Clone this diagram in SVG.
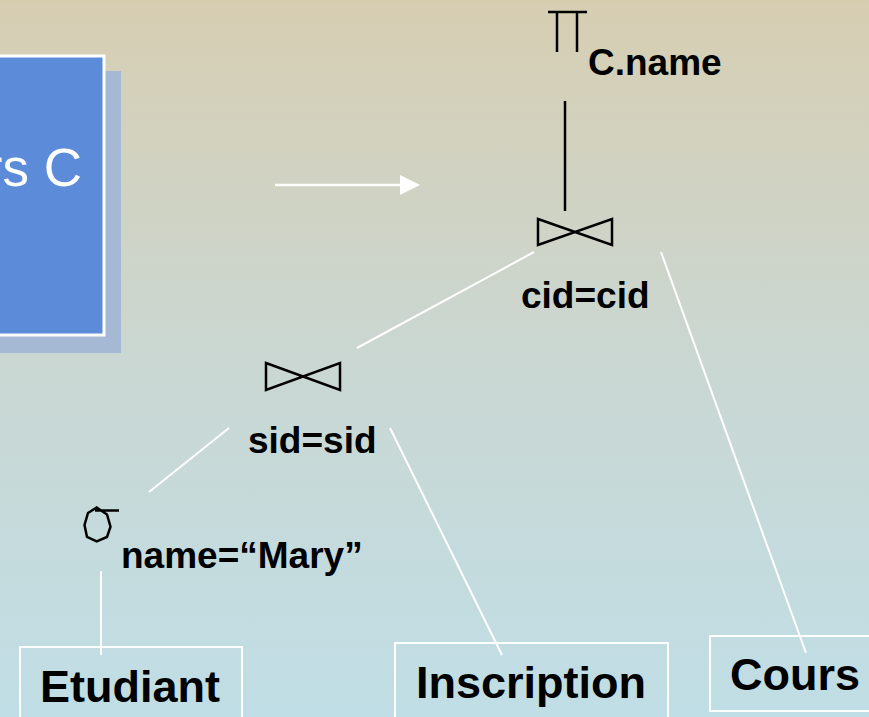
<svg xmlns="http://www.w3.org/2000/svg" width="869" height="717" viewBox="0 0 869 717">
  <defs>
    <linearGradient id="bg" x1="0" y1="0" x2="0" y2="1">
      <stop offset="0" stop-color="#d7ceb2"/>
      <stop offset="0.5" stop-color="#cad7d2"/>
      <stop offset="1" stop-color="#c0dee6"/>
    </linearGradient>
    <marker id="arrow" markerWidth="20" markerHeight="20" refX="0" refY="10" orient="auto" markerUnits="userSpaceOnUse">
      <path d="M0,0 L20,10 L0,20 Z" fill="#ffffff"/>
    </marker>
  </defs>
  <style>
    .lbl { font-family: "Liberation Sans", Arial, sans-serif; font-weight: bold; font-size: 37px; fill: #000; }
    .rel { font-family: "Liberation Sans", Arial, sans-serif; font-weight: bold; font-size: 45px; fill: #000; }
    .sym { fill: none; stroke: #000; stroke-width: 2.5; stroke-linejoin: miter; }
    .tree { stroke: #000; stroke-width: 2.5; fill: none; }
    .edge { stroke: #ffffff; stroke-width: 2; fill: none; }
    .box { fill: none; stroke: #ffffff; stroke-width: 2; }
  </style>

  <rect x="0" y="0" width="869" height="717" fill="url(#bg)"/>

  <!-- title panel (runs past the left edge) -->
  <g id="panel">
    <rect x="-20" y="71" width="141" height="282" fill="#a6b9d4"/>
    <rect x="-20" y="56" width="124" height="279" fill="#5b8bd9" stroke="#ffffff" stroke-width="3"/>
    <text x="82" y="186" text-anchor="end" font-family="Liberation Sans, Arial, sans-serif" font-size="53" fill="#ffffff">rs C</text>
  </g>

  <!-- rewrite arrow -->
  <line x1="275" y1="185" x2="400" y2="185" stroke="#ffffff" stroke-width="2.5" marker-end="url(#arrow)"/>

  <!-- connectors -->
  <g id="connectors">
    <line class="tree" x1="565" y1="101" x2="565" y2="211"/>
    <line class="edge" x1="534" y1="252" x2="357" y2="348"/>
    <line class="edge" x1="661" y1="252" x2="806" y2="653"/>
    <line class="edge" x1="229" y1="428" x2="149" y2="492"/>
    <line class="edge" x1="390" y1="428" x2="502" y2="655"/>
    <line class="edge" x1="101" y1="571" x2="101" y2="655"/>
  </g>

  <!-- projection -->
  <g id="projection">
    <path class="sym" d="M548,12 H587 M557,12 V52 M577,12 V52"/>
    <text class="lbl" x="588" y="75">C.name</text>
  </g>

  <!-- join on cid -->
  <g id="join-cid">
    <path class="sym" d="M538,219 L612,245 L612,219 L538,245 Z"/>
    <text class="lbl" x="521" y="308">cid=cid</text>
  </g>

  <!-- join on sid -->
  <g id="join-sid">
    <path class="sym" d="M266,363 L340,390 L340,363 L266,390 Z"/>
    <text class="lbl" x="248" y="453">sid=sid</text>
  </g>

  <!-- selection -->
  <g id="selection">
    <path class="sym" d="M96.7,507.5 L107,514.5 L110.5,526.7 L107,537 L96.7,541.5 L87,537 L84.5,525 L88,513 Z M95,510.5 H119"/>
    <text class="lbl" x="121" y="568">name=“Mary”</text>
  </g>

  <!-- base relations -->
  <g id="etudiant">
    <rect class="box" x="20" y="647" width="222" height="80"/>
    <text class="rel" x="40" y="702">Etudiant</text>
  </g>
  <g id="inscription">
    <rect class="box" x="395" y="643" width="273" height="84"/>
    <text class="rel" x="416" y="698">Inscription</text>
  </g>
  <g id="cours">
    <rect class="box" x="710" y="636" width="170" height="75"/>
    <text class="rel" x="730" y="690">Cours</text>
  </g>
</svg>
